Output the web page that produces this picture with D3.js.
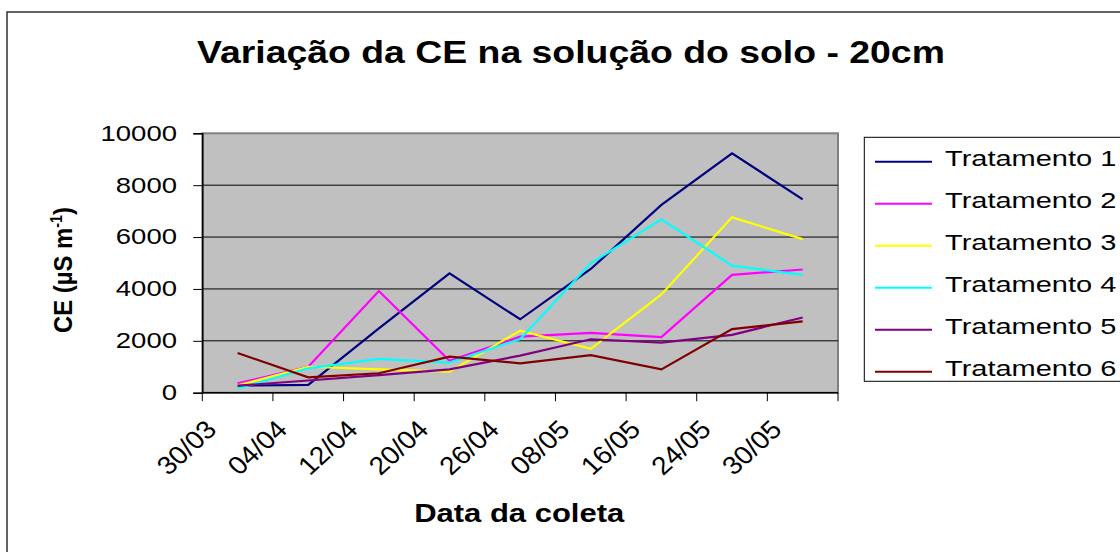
<!DOCTYPE html>
<html>
<head>
<meta charset="utf-8">
<script src="https://cdn.jsdelivr.net/npm/d3@7"></script>
<style>
  html, body { margin: 0; padding: 0; background: #fff; }
  svg { display: block; font-family: "Liberation Sans", Arial, sans-serif; }
</style>
</head>
<body>
<svg id="chart" width="1120" height="552"></svg>
<script>
// Variação da CE na solução do solo - 20cm (Excel style line chart)

const dates = ['30/03', '04/04', '12/04', '20/04', '26/04', '08/05', '16/05', '24/05', '30/05'];
const seriesNames = ['Tratamento 1', 'Tratamento 2', 'Tratamento 3', 'Tratamento 4', 'Tratamento 5', 'Tratamento 6'];
const seriesColors = ['#000080', '#FF00FF', '#FFFF00', '#00FFFF', '#800080', '#800000'];

const trat1 = [270, 300, 2480, 4600, 2830, 4770, 7240, 9230, 7450];
const trat2 = [360, 1000, 3920, 1230, 2160, 2310, 2140, 4540, 4750];
const trat3 = [280, 1000, 900, 810, 2390, 1690, 3790, 6760, 5920];
const trat4 = [160, 940, 1300, 1160, 2070, 4990, 6680, 4900, 4540];
const trat5 = [270, 470, 680, 900, 1430, 2060, 1930, 2230, 2900];
const trat6 = [1530, 590, 750, 1390, 1130, 1450, 900, 2450, 2750];
const allSeries = [trat1, trat2, trat3, trat4, trat5, trat6];

const yTicks = [0, 2000, 4000, 6000, 8000, 10000];

const svg = d3.select('#chart');

// outer chart frame
svg.append('rect')
    .attr('x', 7).attr('y', 12)
    .attr('width', 1200).attr('height', 600)
    .attr('fill', '#fff')
    .attr('stroke', '#303030')
    .attr('stroke-width', 1.5);

const plot = { left: 202.3, right: 838, top: 133.3, bottom: 392.7 };

const x = d3.scaleBand()
    .domain(dates)
    .range([plot.left, plot.right])
    .padding(0);

const y = d3.scaleLinear()
    .domain([0, 10000])
    .range([plot.bottom, plot.top]);

const cx = d => x(d) + x.bandwidth() / 2;

// plot background
svg.append('rect')
    .attr('x', plot.left).attr('y', plot.top)
    .attr('width', plot.right - plot.left)
    .attr('height', plot.bottom - plot.top)
    .attr('fill', '#C0C0C0')
    .attr('stroke', '#808080')
    .attr('stroke-width', 2);

// gridlines
svg.append('g')
    .selectAll('line')
    .data(yTicks.filter(t => t > 0 && t < 10000))
    .enter()
    .append('line')
    .attr('x1', plot.left).attr('x2', plot.right)
    .attr('y1', d => y(d)).attr('y2', d => y(d))
    .attr('stroke', '#000')
    .attr('stroke-width', 1);

// y axis
const yAxis = svg.append('g')
    .attr('transform', `translate(${plot.left},0)`)
    .call(d3.axisLeft(y).tickValues(yTicks).tickSize(9).tickFormat(''));
yAxis.select('.domain').attr('stroke', '#000').attr('stroke-width', 1.5);
yAxis.selectAll('.tick line').attr('stroke', '#000').attr('stroke-width', 1);

svg.append('g')
    .selectAll('text')
    .data(yTicks)
    .enter()
    .append('text')
    .attr('transform', d => `translate(177,${y(d) + 7.4}) scale(1,0.78)`)
    .attr('text-anchor', 'end')
    .attr('font-size', 27.5)
    .attr('fill', '#000')
    .text(d => d);

// x axis (ticks between categories)
svg.append('line')
    .attr('x1', plot.left).attr('x2', plot.right)
    .attr('y1', plot.bottom).attr('y2', plot.bottom)
    .attr('stroke', '#000').attr('stroke-width', 1.5);

svg.append('g')
    .selectAll('line')
    .data(dates.map(d => x(d)).concat([plot.right]))
    .enter()
    .append('line')
    .attr('x1', d => d).attr('x2', d => d)
    .attr('y1', plot.bottom).attr('y2', plot.bottom + 8.5)
    .attr('stroke', '#000').attr('stroke-width', 1);

svg.append('g')
    .selectAll('text')
    .data(dates)
    .enter()
    .append('text')
    .attr('transform', d => `translate(${cx(d) - 19.5},431) scale(1,0.92) rotate(-45)`)
    .attr('text-anchor', 'end')
    .attr('font-size', 28)
    .attr('fill', '#000')
    .text(d => d);

// series lines
const line = d3.line()
    .x((v, i) => cx(dates[i]))
    .y(v => y(v));

svg.append('g')
    .selectAll('path')
    .data(allSeries)
    .enter()
    .append('path')
    .attr('d', d => line(d))
    .attr('fill', 'none')
    .attr('stroke', (d, i) => seriesColors[i])
    .attr('stroke-width', 2.2)
    .attr('stroke-linejoin', 'miter');

// title
svg.append('text')
    .attr('transform', 'translate(571,62.7) scale(1,0.85)')
    .attr('text-anchor', 'middle')
    .attr('font-size', 37.4)
    .attr('font-weight', 'bold')
    .attr('fill', '#000')
    .text('Variação da CE na solução do solo - 20cm');

// x axis title
svg.append('text')
    .attr('transform', 'translate(519.2,521.7) scale(1,0.82)')
    .attr('text-anchor', 'middle')
    .attr('font-size', 31)
    .attr('font-weight', 'bold')
    .attr('fill', '#000')
    .text('Data da coleta');

// y axis title
const yTitle = svg.append('text')
    .attr('transform', 'translate(71.7,270) scale(1,0.9) rotate(-90)')
    .attr('text-anchor', 'middle')
    .attr('font-size', 26.5)
    .attr('font-weight', 'bold')
    .attr('fill', '#000');
yTitle.append('tspan').text('CE (µS m');
yTitle.append('tspan').attr('dy', -10).attr('font-size', 16).text('-1');
yTitle.append('tspan').attr('dy', 10).text(')');

// legend
const legend = svg.append('g');
legend.append('rect')
    .attr('x', 864.3).attr('y', 137.3)
    .attr('width', 300).attr('height', 244)
    .attr('fill', '#fff')
    .attr('stroke', '#000')
    .attr('stroke-width', 1);

const legendY = i => 161.7 + i * 42;

legend.selectAll('line')
    .data(seriesNames)
    .enter()
    .append('line')
    .attr('x1', 875).attr('x2', 932)
    .attr('y1', (d, i) => legendY(i)).attr('y2', (d, i) => legendY(i))
    .attr('stroke', (d, i) => seriesColors[i])
    .attr('stroke-width', 2);

legend.selectAll('text')
    .data(seriesNames)
    .enter()
    .append('text')
    .attr('transform', (d, i) => `translate(945,${legendY(i) + 3.8}) scale(1,0.77)`)
    .attr('font-size', 29)
    .attr('fill', '#000')
    .text(d => d);
</script>
</body>
</html>
